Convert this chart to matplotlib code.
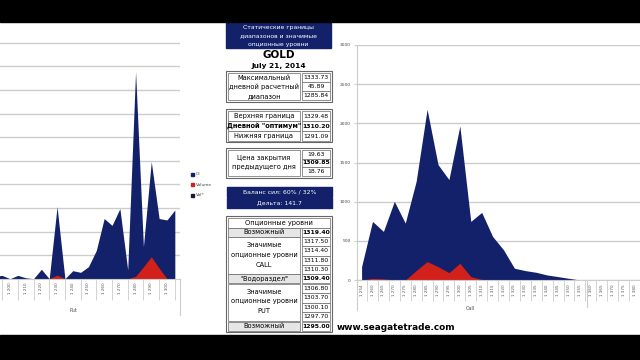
#Import Statements
import numpy as np
import matplotlib
matplotlib.use('Agg')
import matplotlib.pyplot as plt
from matplotlib.patches import Rectangle

#Chart data
# left chart (Put): its y scale is cut off, so values are in grid steps
put_pos = np.arange(-2, 22)
put_oi = [0.10, 0.14, 0.00, 0.14, 0.04, 0.00, 0.40, 0.00, 3.05, 0.00, 0.34, 0.27,
          0.51, 1.20, 2.55, 2.26, 2.97, 0.37, 8.77, 1.36, 4.96, 2.55, 2.49, 2.91]
put_vol = [0, 0, 0, 0, 0, 0, 0, 0, 0.15, 0, 0, 0,
           0, 0, 0, 0, 0, 0, 0.10, 0.50, 0.93, 0.45, 0, 0]
put_labels = ['1 200', '1 210', '1 220', '1 230', '1 240', '1 250',
              '1 260', '1 270', '1 280', '1 290', '1 300']

# right chart (Call)
call_oi = [171, 748, 620, 1004, 726, 1261, 2179, 1474, 1282, 1966, 748, 863, 556,
           385, 150, 120, 98, 64, 43, 21, 0, 0, 0, 0, 0, 0]
call_vol = [0, 20, 15, 0, 0, 120, 235, 171, 94, 214, 43, 8, 0,
            0, 0, 0, 0, 0, 0, 0, 0, 0, 0, 0, 0, 0]
call_labels = ['1 254', '1 260', '1 265', '1 270', '1 275', '1 280', '1 285', '1 290',
               '1 295', '1 300', '1 305', '1 310', '1 315', '1 320', '1 325', '1 330',
               '1 335', '1 340', '1 345', '1 350', '1 355', '1 360', '1 365', '1 370',
               '1 375', '1 380']
legend_names = ['OI', 'Volume', 'Vol*']

# middle table
header_lines = ['Статические границы', 'диапазонов и значимые', 'опционные уровни']
range_labels = ['Максимальный', 'дневной расчетный', 'диапазон']
range_values = ['1333.73', '45.89', '1285.84']
bound_labels = ['Верхняя граница', 'Дневной "оптимум"', 'Нижняя граница']
bound_values = ['1329.48', '1310.20', '1291.09']
close_labels = ['Цена закрытия', 'предыдущего дня']
close_values = ['19.63', '1309.85', '18.76']
balance_text = ['Баланс сил: 60% / 32%', 'Дельта: 141.7']
call_levels = ['1317.50', '1314.40', '1311.80', '1310.30']
put_levels = ['1306.80', '1303.70', '1300.10', '1297.70']

W, H = 640, 360
NAVY = '#12216a'
RED = '#d2201b'
GRID = '#cccccc'
EDGE = '#666666'

def box(x, y, w, h):
    return [x / W, 1 - (y + h) / H, w / W, h / H]

fig = plt.figure(figsize=(6.4, 3.6), dpi=100)
fig.patch.set_facecolor('black')

bg = fig.add_axes([0, 0, 1, 1], zorder=0)
bg.set_xlim(0, W)
bg.set_ylim(H, 0)
bg.axis('off')
bg.add_patch(Rectangle((0, 22), W, 313, color='white'))

#Left chart
axl = fig.add_axes(box(0, 22, 180, 256.7), zorder=1)
axl.fill_between(put_pos, put_oi, color=NAVY, lw=0)
axl.fill_between(put_pos, put_vol, color=RED, lw=0)
axl.set_xlim(-1.27, 21.66)
axl.set_ylim(0, 10.88)
axl.set_yticks(range(1, 11))
axl.yaxis.grid(True, color=GRID, lw=1)
axl.set_axisbelow(True)
axl.tick_params(axis='y', length=0, labelleft=False)
axl.set_xticks(range(0, 21, 2))
axl.set_xticklabels(put_labels, rotation=90, fontsize=3, color='#555555')
axl.set_xticks(np.arange(-1, 22, 2), minor=True)
axl.tick_params(axis='x', which='major', length=0, pad=3)
axl.tick_params(axis='x', which='minor', length=15, color=GRID, width=0.6)
for s in ['left', 'top', 'right']:
    axl.spines[s].set_visible(False)
axl.spines['bottom'].set_color(GRID)
axl.patch.set_alpha(0)

#Right chart
axr = fig.add_axes(box(357, 45, 283, 235), zorder=1)
xr = np.arange(len(call_oi))
axr.fill_between(xr, call_oi, color=NAVY, lw=0)
axr.fill_between(xr, call_vol, color=RED, lw=0)
axr.set_xlim(-0.42, 25.07)
axr.set_ylim(0, 3000)
axr.set_yticks(range(0, 3001, 500))
axr.set_yticklabels([str(v) for v in range(0, 3001, 500)], fontsize=3.2, color='#444444')
axr.yaxis.grid(True, color=GRID, lw=1)
axr.set_axisbelow(True)
axr.tick_params(axis='y', length=2.5, color=GRID, pad=2)
axr.set_xticks(xr)
axr.set_xticklabels(call_labels, rotation=90, fontsize=3, color='#555555')
axr.set_xticks(xr + 0.5, minor=True)
axr.tick_params(axis='x', which='major', length=0, pad=3)
axr.tick_params(axis='x', which='minor', length=15, color=GRID, width=0.6)
for s in ['top', 'right']:
    axr.spines[s].set_visible(False)
axr.spines['left'].set_color(GRID)
axr.spines['bottom'].set_color(GRID)
axr.patch.set_alpha(0)

#Overlay: table, legend, labels, black bars
fg = fig.add_axes([0, 0, 1, 1], zorder=3)
fg.set_xlim(0, W)
fg.set_ylim(H, 0)
fg.axis('off')

def cell(x, y, w, h, fc='white', lw=0.5):
    fg.add_patch(Rectangle((x, y), w, h, facecolor=fc, edgecolor=EDGE, lw=lw))

def txt(x, y, s, size=4.8, bold=False, color='black', ha='center'):
    fg.text(x, y, s, ha=ha, va='center', fontsize=size, color=color,
            fontweight='bold' if bold else 'normal')

VAL = 4.4

# axis lines below the charts
fg.plot([180, 180], [279, 315], color=GRID, lw=0.8)
fg.plot([357, 357], [280, 310], color=GRID, lw=0.8)
fg.plot([587, 587], [280, 307], color=GRID, lw=0.8)
txt(73, 311, 'Put', size=3.5, color='#444444')
txt(470, 309, 'Call', size=3.5, color='#444444')

# legend of the left chart
leg_colors = [NAVY, RED, '#1a1a3a']
for k, name in enumerate(legend_names):
    yy = 174 + 10.5 * k
    fg.add_patch(Rectangle((190.5, yy - 1.5), 3, 3, color=leg_colors[k]))
    txt(196, yy, name, size=3.2, color='#444444', ha='left')

# header
fg.add_patch(Rectangle((226, 18), 105, 30, color=NAVY))
for k, line in enumerate(header_lines):
    txt(278.5, 27 + 8.8 * k, line, size=4.4, color='white')
txt(279, 55, 'GOLD', size=7.5, bold=True)
txt(279, 66, 'July 21, 2014', size=5.3, bold=True)

# box 1
cell(226, 71, 106, 31, lw=0.8)
cell(228, 73, 72, 27)
for k in range(3):
    txt(264, 77.5 + 9.5 * k, range_labels[k])
    cell(302, 73 + 9 * k, 28, 9)
    txt(316, 77.5 + 9 * k, range_values[k], size=VAL)

# box 2
cell(226, 109, 106, 33, lw=0.8)
for k in range(3):
    cell(228, 111 + 10 * k, 72, 10)
    cell(302, 111 + 10 * k, 28, 10)
    txt(264, 116 + 10 * k, bound_labels[k], bold=(k == 1))
    txt(316, 116 + 10 * k, bound_values[k], size=VAL, bold=(k == 1))

# box 3
cell(226, 148, 106, 30, lw=0.8)
cell(228, 150, 72, 26)
for k in range(2):
    txt(264, 158 + 9.5 * k, close_labels[k])
for k in range(3):
    cell(302, 150 + 8.7 * k, 28, 8.7)
    txt(316, 154.3 + 8.7 * k, close_values[k], size=VAL, bold=(k == 1))

# balance boxes
fg.add_patch(Rectangle((227, 187), 105, 10, color=NAVY))
fg.add_patch(Rectangle((227, 198), 105, 9.5, color=NAVY))
txt(279.5, 192, balance_text[0], size=4.4, color='white')
txt(279.5, 202.7, balance_text[1], size=4.4, color='white')

# option levels table
cell(226, 216, 106, 116, lw=0.8)
cell(228, 218, 102, 10)
txt(279, 223, 'Опционные уровни')
GREY = '#e6e6e6'
cell(228, 228, 72, 8.5, fc=GREY)
cell(302, 228, 28, 8.5)
txt(264, 232.3, 'Возможный')
txt(316, 232.3, '1319.40', size=VAL, bold=True)
cell(228, 237, 72, 37)
for k in range(4):
    cell(302, 237 + 9.25 * k, 28, 9.25)
    txt(316, 241.6 + 9.25 * k, call_levels[k], size=VAL)
for k, line in enumerate(['Значимые', 'опционные уровни', 'CALL']):
    txt(264, 245 + 10 * k, line)
cell(228, 274, 72, 9, fc=GREY)
cell(302, 274, 28, 9)
txt(264, 278.5, '"Водораздел"')
txt(316, 278.5, '1309.40', size=VAL, bold=True)
cell(228, 284, 72, 37)
for k in range(4):
    cell(302, 284 + 9.25 * k, 28, 9.25)
    txt(316, 288.6 + 9.25 * k, put_levels[k], size=VAL)
for k, line in enumerate(['Значимые', 'опционные уровни', 'PUT']):
    txt(264, 292 + 9.5 * k, line)
cell(228, 322, 72, 9, fc=GREY)
cell(302, 322, 28, 9)
txt(264, 326.5, 'Возможный')
txt(316, 326.5, '1295.00', size=VAL, bold=True)

txt(337, 327, 'www.seagatetrade.com', size=6.4, bold=True, ha='left')

# black video bars
fg.add_patch(Rectangle((0, 0), W, 22, color='black'))
fg.add_patch(Rectangle((0, 335), W, 25, color='black'))

fig.savefig('out.png', dpi=100, facecolor='black')
